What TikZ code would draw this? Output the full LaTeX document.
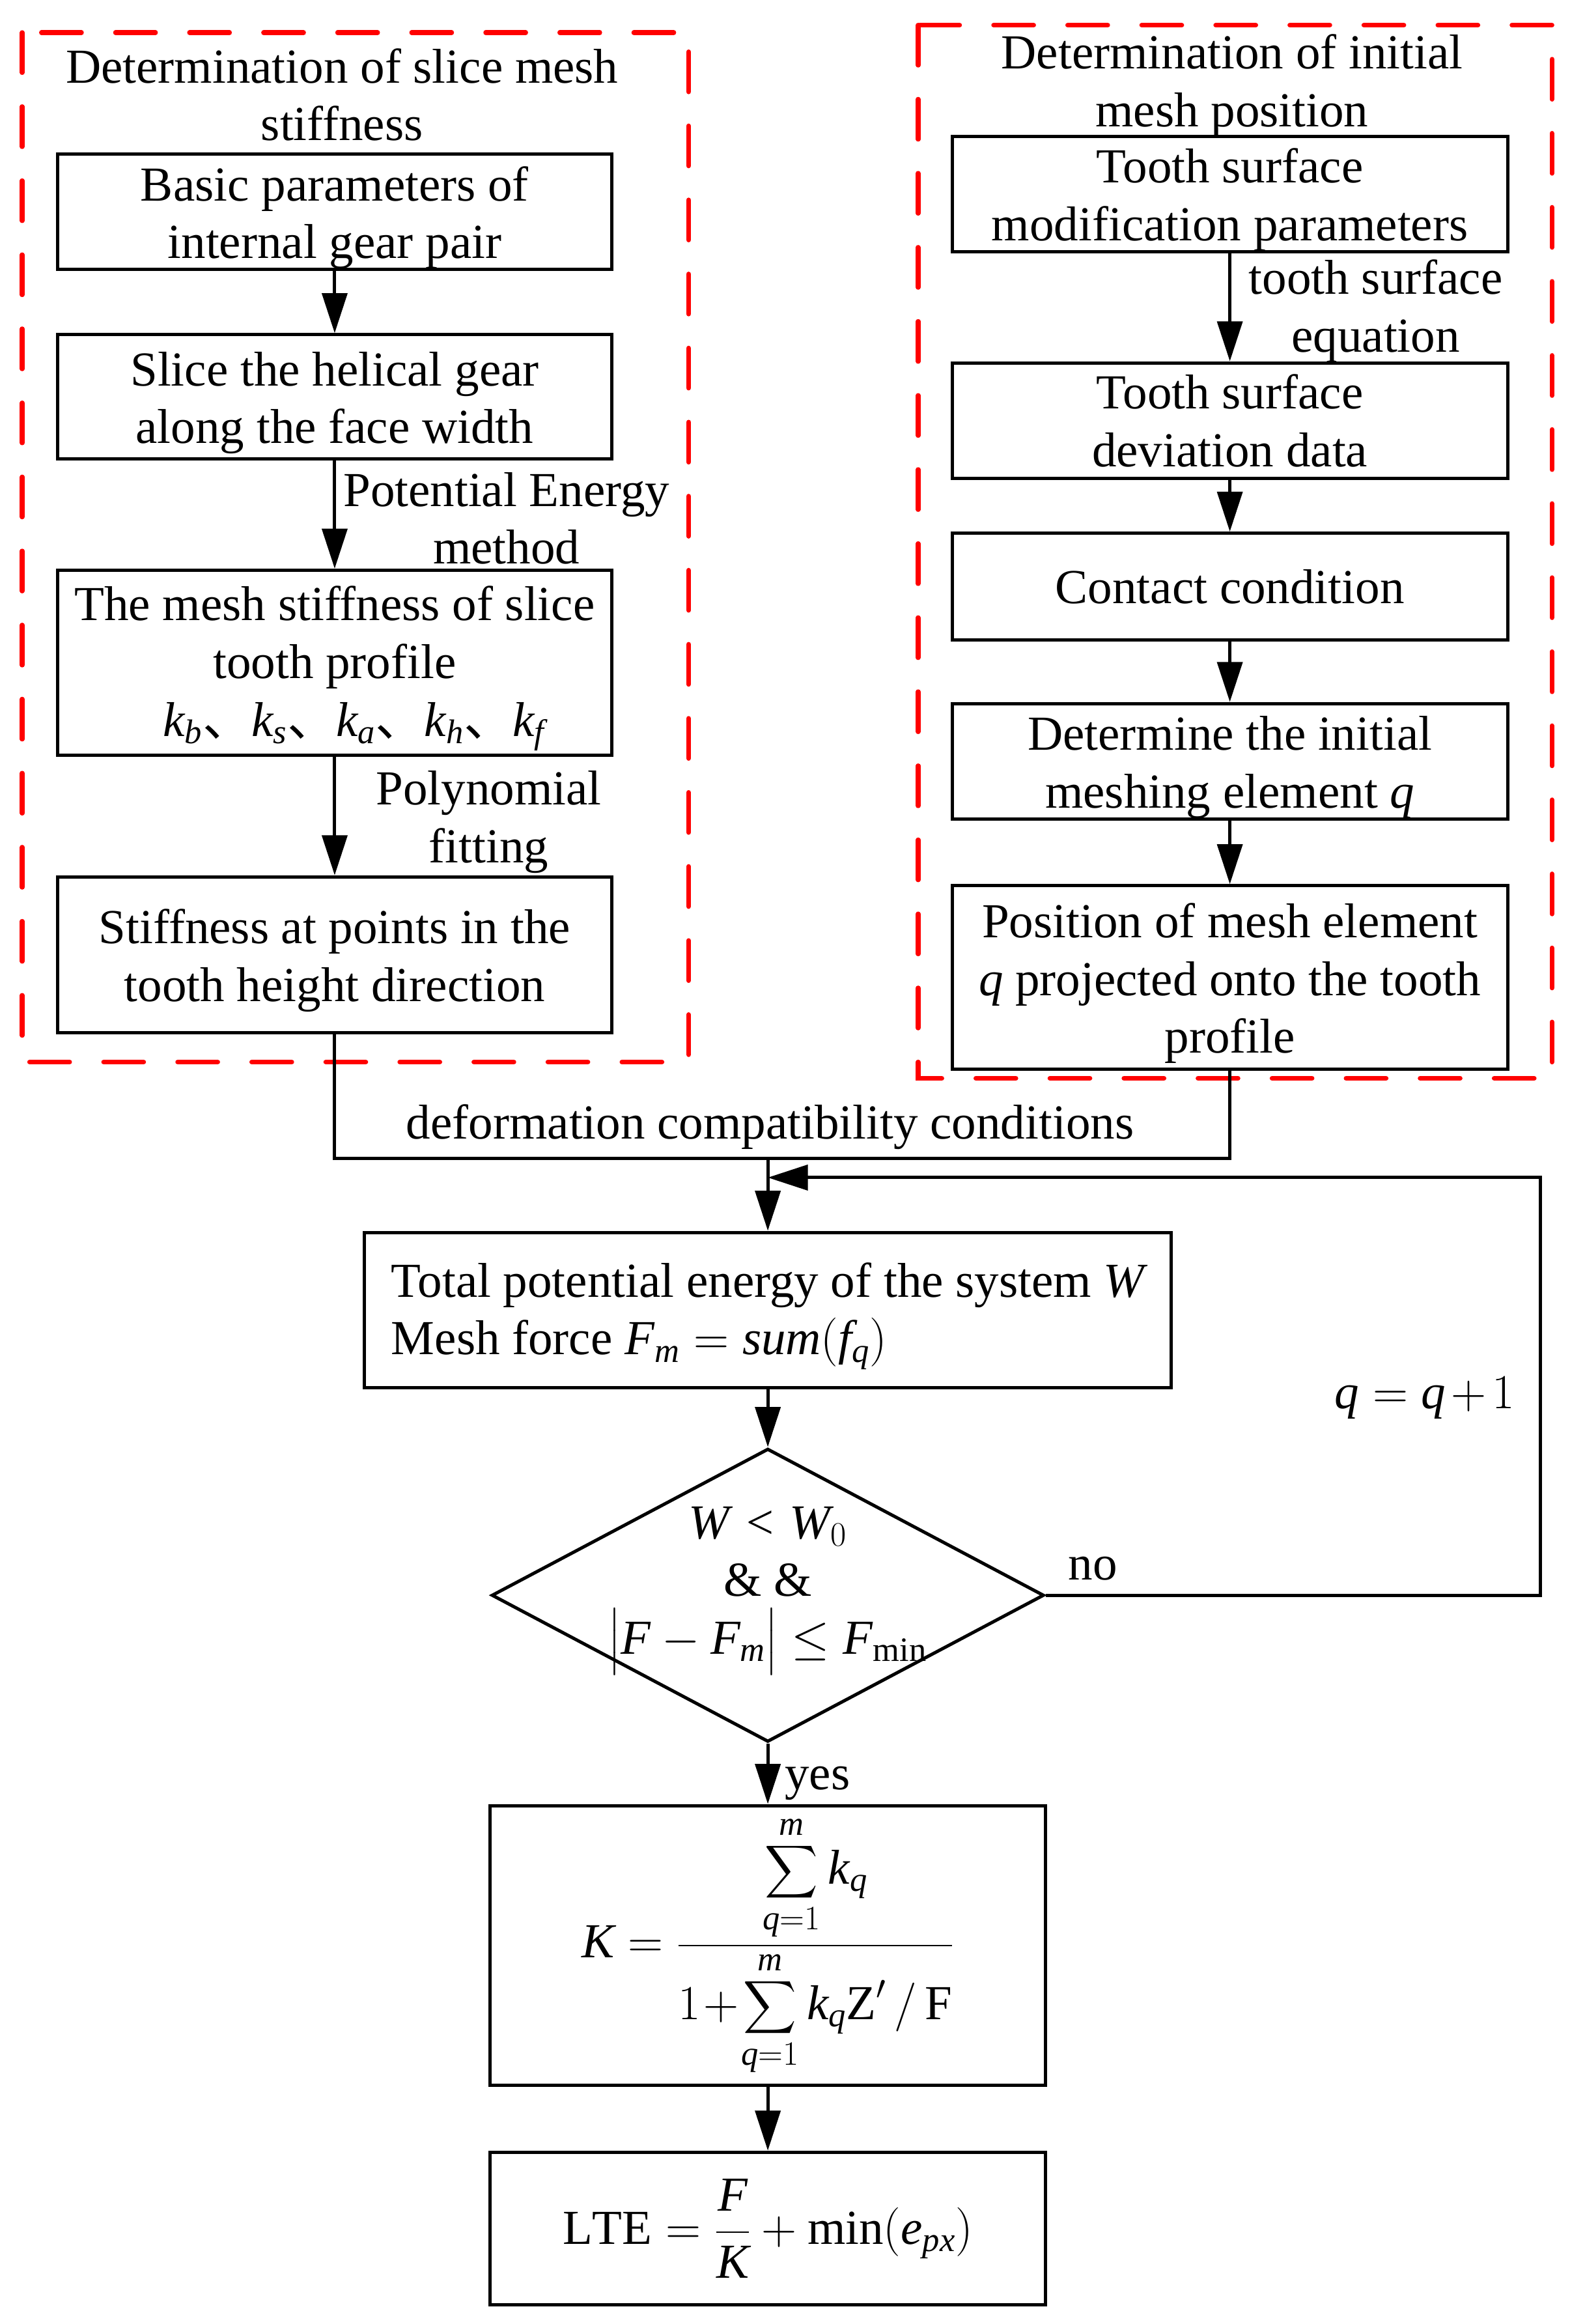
\RequirePackage{fix-cm}
\documentclass[tikz,border=0pt]{standalone}
\usepackage{amsmath}
\usepackage{fontspec}
\setmainfont[NFSSFamily=libserif]{Liberation Serif}
\newfontfamily\cjk{Noto Sans CJK SC}
\DeclareSymbolFont{letters}{TU}{libserif}{m}{it}
\DeclareSymbolFont{operators}{TU}{libserif}{m}{n}
\DeclareMathSymbol{/}{\mathord}{operators}{"2F}
\newcommand\tp{\rule{0pt}{31pt}}
\usetikzlibrary{arrows.meta,shapes.geometric,calc}
\begin{document}
\begin{tikzpicture}[x=1pt,y=-1pt,
  every node/.style={font=\fontsize{33}{39}\selectfont, inner sep=0pt},
  box/.style={draw, line width=2.2pt, align=center},
  lbl/.style={align=center},
  ln/.style={line width=2.2pt},
  arr/.style={line width=2.2pt, -{Triangle[length=27pt,width=17pt]}},
  grp/.style={draw=red, line width=3.2pt, dash pattern=on 27pt off 23pt, line cap=round}
]
\useasboundingbox (0,0) rectangle (1070,1569);

% group frames
\draw[grp] (15,22) rectangle (465,717);
\draw[grp] (620,17) rectangle (1048,728);

% left column
\node[lbl] (tL) at (231,64) {Determination of slice mesh\\stiffness};
\node[box, minimum width=374pt, minimum height=78pt] (L1) at (226,143) {\tp Basic parameters of\\internal gear pair};
\node[box, minimum width=374pt, minimum height=84pt] (L2) at (226,268) {\tp Slice the helical gear\\along the face width};
\node[box, minimum width=374pt, minimum height=125pt] (L3) at (226,447.5) {\tp The mesh stiffness of slice\\tooth profile\\\hspace*{26pt}$k_b$\cjk{、}$k_s$\cjk{、}$k_a$\cjk{、}$k_h$\cjk{、}$k_f$};
\node[box, minimum width=374pt, minimum height=105pt] (L4) at (226,644.5) {\tp Stiffness at points in the\\tooth height direction};

% right column
\node[lbl] (tR) at (832,58) {Determination of initial\\mesh position};
\node[box, minimum width=375pt, minimum height=78pt] (R1) at (830.5,131) {\tp Tooth surface\\modification parameters};
\node[box, minimum width=375pt, minimum height=78pt] (R2) at (830.5,284) {Tooth surface\\deviation data};
\node[box, minimum width=375pt, minimum height=72pt] (R3) at (830.5,396) {Contact condition};
\node[box, minimum width=375pt, minimum height=78pt] (R4) at (830.5,514) {\tp Determine the initial\\meshing element \textit{q}};
\node[box, minimum width=375pt, minimum height=124pt] (R5) at (830.5,660) {\tp Position of mesh element\\\textit{q} projected onto the tooth\\profile};

% main column
\node[box, minimum width=545pt, minimum height=105pt, align=left] (M1) at (518.5,884.5) {\tp Total potential energy of the system $W$\\Mesh force $F_m=sum(f_q)$};
\node[draw, diamond, line width=2.2pt, minimum width=373pt, minimum height=198pt] (D) at (518.5,1077) {};
\node[lbl] (Dt) at (518.5,1074) {$W<W_0$\\\& \&\\$\bigl|F-F_m\bigr|\le F_{\mathrm{min}}$};
\node[box, minimum width=375pt, minimum height=189pt] (M2) at (518.5,1313.5) {$K=\dfrac{\displaystyle\sum_{q=1}^{m}k_q}{1\!+\!\displaystyle\sum_{q=1}^{m}k_q\mathrm{Z}'\,/\,\mathrm{F}}$};
\node[box, minimum width=375pt, minimum height=103pt] (M3) at (518.5,1504.5) {$\mathrm{LTE}=\dfrac{F}{K}+\min(e_{px})$};

% labels
\node[lbl] (lPE) at (342,350) {Potential Energy\\method};
\node[lbl] (lPF) at (330,555) {Polynomial\\fitting};
\node[lbl] (lTS) at (929,210) {tooth surface\\equation};
\node (lDC) at (520,761) {deformation compatibility conditions};
\node (lno) at (738,1059) {no};
\node (lq) at (962,944) {$\medmuskip=2mu q=q+1$};
\node (lyes) at (552,1204) {yes};

% connectors
\draw[arr] (L1) -- (L2);
\draw[arr] (L2) -- (L3);
\draw[arr] (L3) -- (L4);
\draw[arr] (R1) -- (R2);
\draw[arr] (R2) -- (R3);
\draw[arr] (R3) -- (R4);
\draw[arr] (R4) -- (R5);
\coordinate (mJ) at (518.5,782);
\draw[ln] (L4.south) |- (mJ) -| (R5.south);
\draw[arr] (mJ) -- (M1.north);
\draw[arr] (M1) -- (D);
\coordinate (fbC) at (1040,795);
\coordinate (fbJ) at (518.5,795);
\draw[arr] (D.east) -| (fbC) -- (fbJ);
\draw[arr] (D.south) -- (M2.north);
\draw[arr] (M2) -- (M3);
\end{tikzpicture}
\end{document}
